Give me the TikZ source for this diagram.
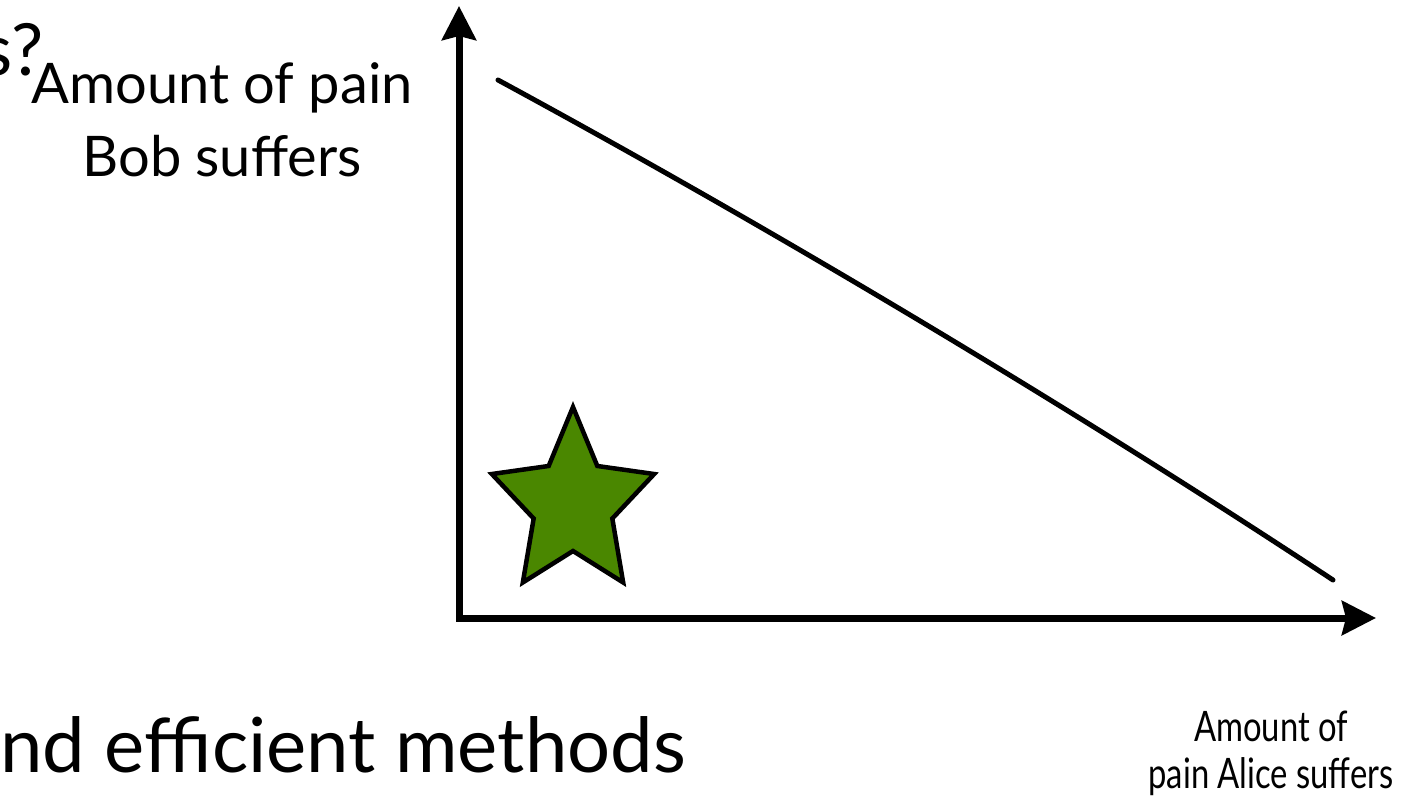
\documentclass[tikz,border=0pt]{standalone}
\usepackage{fontspec}
\setmainfont{Lato}
\usetikzlibrary{arrows.meta,positioning}
\definecolor{stargreen}{HTML}{4A8700}

\begin{document}
\begin{tikzpicture}[x=1pt,y=-1pt,>={Stealth[length=34pt,width=34pt,inset=4pt]},
  axis/.style={line width=7pt},
  frontier/.style={line width=5pt,line cap=round},
  goodstar/.style={line width=4.5pt,fill=stargreen,line join=miter},
  painlbl/.style={font=\fontsize{56}{73}\selectfont,align=center,inner sep=0pt},
  slidetxt/.style={inner sep=0pt}]
\useasboundingbox (0,0) rectangle (1403,798);
% axes
\coordinate (O) at (459,618);
\coordinate (ytip) at (459,6);
\coordinate (xtip) at (1376,618);
\draw[axis,<->] (ytip) -- (O) -- (xtip);
% frontier
\coordinate (fa) at (498,80);
\coordinate (fb) at (1333,580);
\draw[frontier] (fa) .. controls (760,222) and (1060,400) .. (fb);
% star
\begin{scope}[shift={(573,504)},xscale=0.88]
\draw[goodstar] (-90:97) \foreach \a/\r in {-54/47,-18/97,18/47,54/97,90/47,126/97,162/47,198/97,234/47} { -- (\a:\r) } -- cycle;
\end{scope}
% labels
\node[painlbl,anchor=north] (bob) at (222,62) {Amount of pain\\Bob suffers};
\node[painlbl,anchor=north,xscale=0.78,font=\fontsize{42}{47}\selectfont] (alice) at (1271,711) {Amount of\\pain Alice suffers};
\node[slidetxt,anchor=base east,font=\fontsize{72}{80}\selectfont] (title) at (44,75) {s?};
\node[slidetxt,anchor=base east,font=\fontsize{76}{90}\selectfont] (body) at (686,772) {nd efficient methods};
\end{tikzpicture}
\end{document}
